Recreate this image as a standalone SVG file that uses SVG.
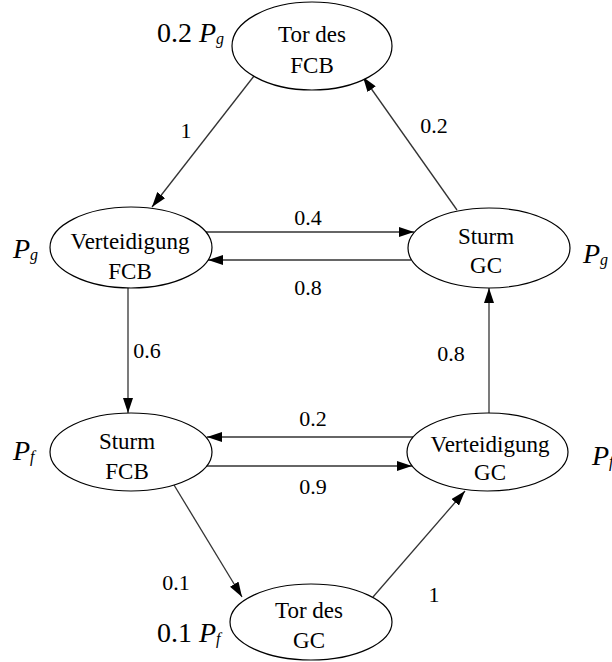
<svg xmlns="http://www.w3.org/2000/svg" width="612" height="662" viewBox="0 0 612 662">
<style>
  .node ellipse { fill: #fff; stroke: #000; stroke-width: 1.2; }
  .nt { font-family: "Liberation Serif", "Times New Roman", "DejaVu Serif", serif; font-size: 23px; fill: #000; text-anchor: middle; }
  .el { font-family: "Liberation Serif", "Times New Roman", "DejaVu Serif", serif; font-size: 22px; fill: #000; text-anchor: middle; }
  .pl { font-family: "Liberation Serif", "Times New Roman", "DejaVu Serif", serif; font-size: 28px; fill: #000; }
  .it { font-style: italic; }
  .sub { font-style: italic; font-size: 16px; }
  #connectors line { stroke: #333; stroke-width: 1.3; fill: none; marker-end: url(#ah); }
</style>
<defs>
  <marker id="ah" markerWidth="15" markerHeight="10" refX="15" refY="5" orient="auto" markerUnits="userSpaceOnUse">
    <path d="M0,0 L15,5 L0,10 z" fill="#000"/>
  </marker>
</defs>
<rect width="612" height="662" fill="#fff"/>

<g id="connectors">
  <line x1="254" y1="76" x2="152" y2="207"/>
  <line x1="457" y1="210" x2="363" y2="77"/>
  <line x1="206" y1="232" x2="414" y2="232"/>
  <line x1="411" y1="260" x2="208" y2="260"/>
  <line x1="128" y1="288" x2="128" y2="413"/>
  <line x1="489" y1="413" x2="489" y2="288"/>
  <line x1="413" y1="437" x2="207" y2="437"/>
  <line x1="206" y1="466" x2="412" y2="466"/>
  <line x1="174" y1="485" x2="242" y2="597"/>
  <line x1="373" y1="597" x2="465" y2="491"/>
</g>

<g id="edge-labels">
  <text class="el" x="186" y="138">1</text>
  <text class="el" x="434" y="133">0.2</text>
  <text class="el" x="308" y="225">0.4</text>
  <text class="el" x="308" y="295">0.8</text>
  <text class="el" x="147" y="358">0.6</text>
  <text class="el" x="451" y="361">0.8</text>
  <text class="el" x="313" y="426">0.2</text>
  <text class="el" x="313" y="494">0.9</text>
  <text class="el" x="176" y="590">0.1</text>
  <text class="el" x="434" y="602">1</text>
</g>

<g id="node-tor-fcb" class="node">
  <ellipse cx="312" cy="46" rx="80" ry="44"/>
  <text class="nt" x="312" y="42">Tor des</text>
  <text class="nt" x="312" y="73">FCB</text>
</g>
<g id="node-vert-fcb" class="node">
  <ellipse cx="131" cy="247.5" rx="81" ry="40.5"/>
  <text class="nt" x="130" y="249">Verteidigung</text>
  <text class="nt" x="130" y="279">FCB</text>
</g>
<g id="node-sturm-gc" class="node">
  <ellipse cx="489" cy="248" rx="81" ry="40"/>
  <text class="nt" x="486" y="244">Sturm</text>
  <text class="nt" x="486" y="273">GC</text>
</g>
<g id="node-sturm-fcb" class="node">
  <ellipse cx="131" cy="452" rx="81" ry="39"/>
  <text class="nt" x="127" y="449">Sturm</text>
  <text class="nt" x="127" y="479">FCB</text>
</g>
<g id="node-vert-gc" class="node">
  <ellipse cx="487.5" cy="452" rx="80.5" ry="39"/>
  <text class="nt" x="490" y="452">Verteidigung</text>
  <text class="nt" x="490" y="480">GC</text>
</g>
<g id="node-tor-gc" class="node">
  <ellipse cx="311" cy="622" rx="81" ry="38"/>
  <text class="nt" x="309" y="618">Tor des</text>
  <text class="nt" x="309" y="648">GC</text>
</g>

<g id="prob-labels">
  <text class="pl" x="157" y="42">0.2 <tspan class="it">P</tspan><tspan class="sub" dy="2">g</tspan></text>
  <text class="pl" x="13" y="258"><tspan class="it">P</tspan><tspan class="sub" dy="2">g</tspan></text>
  <text class="pl" x="583" y="263"><tspan class="it">P</tspan><tspan class="sub" dy="2">g</tspan></text>
  <text class="pl" x="13" y="460"><tspan class="it">P</tspan><tspan class="sub" dy="2">f</tspan></text>
  <text class="pl" x="592" y="465"><tspan class="it">P</tspan><tspan class="sub" dy="2">f</tspan></text>
  <text class="pl" x="157" y="642">0.1 <tspan class="it">P</tspan><tspan class="sub" dy="2">f</tspan></text>
</g>
</svg>
